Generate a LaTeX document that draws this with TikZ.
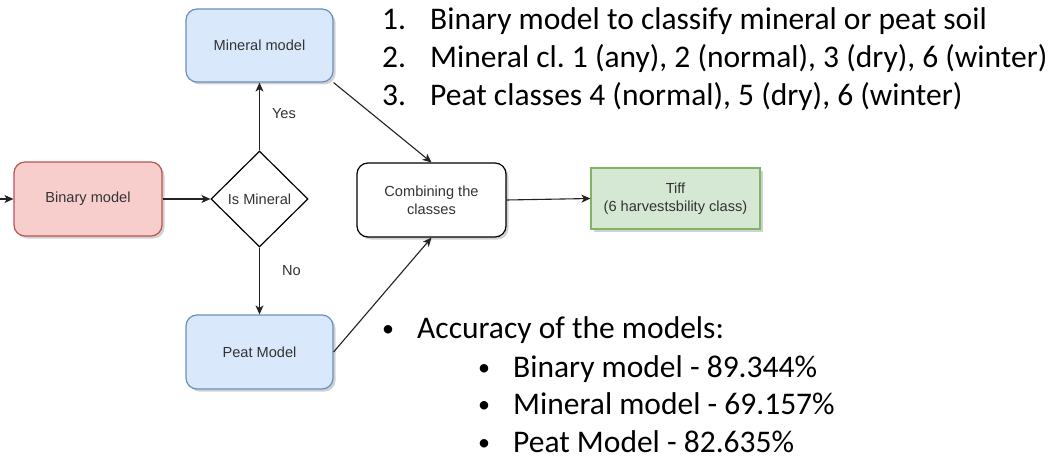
\documentclass[tikz,border=0pt]{standalone}
\usepackage{fontspec}
\setmainfont{Liberation Sans}
\newfontfamily\calfont{Carlito}
\usetikzlibrary{shapes.geometric,arrows.meta,shadows}
\definecolor{redfill}{HTML}{F8CECC}
\definecolor{redline}{HTML}{B85450}
\definecolor{bluefill}{HTML}{DAE8FC}
\definecolor{blueline}{HTML}{6C8EBF}
\definecolor{greenfill}{HTML}{D5E8D4}
\definecolor{greenline}{HTML}{82B366}
\definecolor{textgrey}{HTML}{333333}
\definecolor{linegrey}{HTML}{222222}
\tikzset{
  shad/.style={drop shadow={shadow xshift=2.5pt,shadow yshift=-2.5pt,opacity=0.18,fill=black}},
  box/.style={draw, line width=1.2pt, rounded corners=11pt, minimum width=148pt, minimum height=74pt,
    inner sep=0pt, align=center, text=textgrey, font=\fontsize{14.6}{18}\selectfont, shad},
  decision/.style={draw=black, fill=white, line width=1.2pt, diamond, minimum width=97pt, minimum height=96pt,
    inner sep=0pt, text=textgrey, font=\fontsize{14.6}{18}\selectfont},
  flowlabel/.style={text=textgrey, font=\fontsize{14.6}{18}\selectfont, inner sep=0pt},
  conn/.style={draw=linegrey, line width=1.1pt, -{Stealth[length=9pt,width=8pt,inset=2.5pt]}},
  listtext/.style={anchor=base west, inner sep=0pt, text=black, font=\calfont\fontsize{31.5}{38}\selectfont},
  bullettext/.style={anchor=base west, inner sep=0pt, text=black, font=\calfont\fontsize{24}{30}\selectfont},
}
\begin{document}
\begin{tikzpicture}[x=1pt,y=-1pt]
\useasboundingbox[fill=white] (0,0) rectangle (1058,460);

% flowchart nodes
\node[box, fill=redfill, draw=redline] (binary) at (88,199) {Binary model};
\node[decision] (ismin) at (259.5,199) {Is Mineral};
\node[box, fill=bluefill, draw=blueline, minimum width=147pt, minimum height=73pt] (mineral) at (259.5,45.5) {Mineral model};
\node[box, fill=bluefill, draw=blueline, minimum width=147pt, minimum height=74pt] (peat) at (259.5,352) {Peat Model};
\node[box, fill=white, draw=black, minimum width=149pt, minimum height=74pt] (comb) at (431.5,200) {Combining the\\classes};
\node[box, rounded corners=0pt, fill=greenfill, draw=greenline, minimum width=169pt, minimum height=61pt] (tiff) at (675.5,198.5) {Tiff\\(6 harvestsbility class)};

\coordinate (in) at (0,199);

% connectors
\draw[conn] (in) -- (binary.west);
\draw[conn] (binary.east) -- (ismin.west);
\draw[conn] (ismin.north) -- node[flowlabel, right=12pt, pos=0.55] (yes) {Yes} (mineral.south);
\draw[conn] (ismin.south) -- node[flowlabel, right=22pt, pos=0.35] (no) {No} (peat.north);
\draw[conn] (mineral.south east) -- (comb.north);
\draw[conn] (peat.east) -- (comb.south);
\draw[conn] (comb.east) -- (tiff.west);

% numbered list
\node[listtext] (n1) at (382,30) {1.};
\node[listtext] (t1) at (430,30) {Binary model to classify mineral or peat soil};
\node[listtext] (n2) at (382,68) {2.};
\node[listtext] (t2) at (430,68) {Mineral cl.\ 1 (any), 2 (normal), 3 (dry), 6 (winter)};
\node[listtext] (n3) at (382,106) {3.};
\node[listtext] (t3) at (430,106) {Peat classes 4 (normal), 5 (dry), 6 (winter)};

% bullet list
\node[bullettext] (b0) at (382,336) {•};
\node[listtext] (a0) at (417,338) {Accuracy of the models:};
\node[bullettext] (b1) at (478,375) {•};
\node[listtext] (a1) at (513,377) {Binary model - 89.344\%};
\node[bullettext] (b2) at (478,412) {•};
\node[listtext] (a2) at (513,414) {Mineral model - 69.157\%};
\node[bullettext] (b3) at (478,450) {•};
\node[listtext] (a3) at (513,452) {Peat Model - 82.635\%};
\end{tikzpicture}
\end{document}
